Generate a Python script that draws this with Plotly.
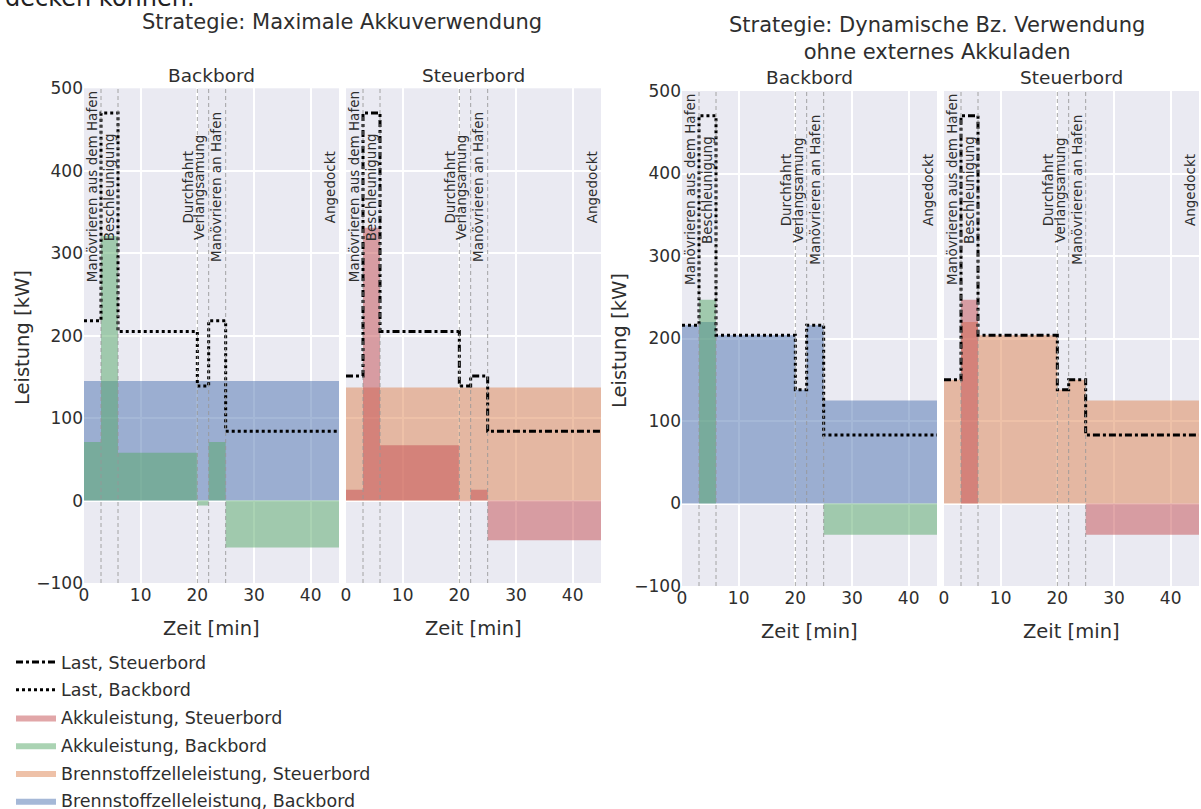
import plotly.graph_objects as go

# ---------------- data ----------------
phase_edges = [0, 3, 6, 20, 22, 25, 45]
phase_names = ["Manövrieren aus dem Hafen", "Beschleunigung", "Durchfahrt",
               "Verlangsamung", "Manövrieren an Hafen", "Angedockt"]

# Strategie 1: Maximale Akkuverwendung
s1_last_bb = [218, 470, 205, 139, 218, 84]
s1_last_sb = [151, 470, 205, 139, 151, 84]
s1_bz_bb = [145, 145, 145, 145, 145, 145]
s1_bz_sb = [137, 137, 137, 137, 137, 137]
s1_akku_bb = [71, 321, 58, -6, 71, -57]
s1_akku_sb = [13, 331, 67, -1, 13, -48]

# Strategie 2: Dynamische Bz. Verwendung ohne externes Akkuladen
s2_last_bb = [216, 470, 204, 138, 216, 83]
s2_last_sb = [150, 470, 204, 138, 150, 83]
s2_bz_bb = [216, 220, 204, 138, 216, 125]
s2_bz_sb = [150, 220, 204, 138, 150, 125]
s2_akku_bb = [0, 247, 0, 0, 0, -38]
s2_akku_sb = [0, 247, 0, 0, 0, -38]

titles = ["Strategie: Maximale Akkuverwendung",
          "Strategie: Dynamische Bz. Verwendung<br>ohne externes Akkuladen"]
side_names = ["Backbord", "Steuerbord"]
y_ticks = [-100, 0, 100, 200, 300, 400, 500]
x_ticks = [0, 10, 20, 30, 40]

# ---------------- style ----------------
W, H = 1201, 809
TXT = "#2e2e2e"
FONT = "DejaVu Sans"
BZ_BB = "rgba(76,114,176,0.5)"
AKKU_BB = "rgba(85,168,104,0.5)"
BZ_SB = "rgba(221,132,82,0.5)"
AKKU_SB = "rgba(196,78,82,0.5)"


def px(x):
    return x / W


def py(y):
    return 1 - y / H


def steps(v):
    return list(v) + [v[-1]]


panels = [
    dict(ax="", bz=s1_bz_bb, akku=s1_akku_bb, last=s1_last_bb, side="bb",
         xd=(84, 339), yd=(88.3, 583)),
    dict(ax="2", bz=s1_bz_sb, akku=s1_akku_sb, last=s1_last_sb, side="sb",
         xd=(346, 601), yd=(88.3, 583)),
    dict(ax="3", bz=s2_bz_bb, akku=s2_akku_bb, last=s2_last_bb, side="bb",
         xd=(682, 937), yd=(91, 586)),
    dict(ax="4", bz=s2_bz_sb, akku=s2_akku_sb, last=s2_last_sb, side="sb",
         xd=(944, 1199), yd=(91, 586)),
]

series_info = {
    ("bz", "bb"): ("Brennstoffzelleleistung, Backbord", BZ_BB, 6),
    ("bz", "sb"): ("Brennstoffzelleleistung, Steuerbord", BZ_SB, 5),
    ("akku", "bb"): ("Akkuleistung, Backbord", AKKU_BB, 4),
    ("akku", "sb"): ("Akkuleistung, Steuerbord", AKKU_SB, 3),
    ("last", "bb"): ("Last, Backbord", None, 2),
    ("last", "sb"): ("Last, Steuerbord", None, 1),
}

fig = go.Figure()
shown = set()
for p in panels:
    xa, ya = "x" + p["ax"], "y" + p["ax"]
    for kind in ["bz", "akku"]:
        name, col, rank = series_info[(kind, p["side"])]
        key = (kind, p["side"])
        fig.add_trace(go.Scatter(
            x=phase_edges, y=steps(p[kind]), mode="lines",
            line=dict(width=0, shape="hv"), fill="tozeroy", fillcolor=col,
            name=name, legendgroup=name, legendrank=rank,
            showlegend=key not in shown, xaxis=xa, yaxis=ya, hoverinfo="skip"))
        shown.add(key)
    name, _, rank = series_info[("last", p["side"])]
    key = ("last", p["side"])
    dash = "3px,3px" if p["side"] == "bb" else "7px,3px,3px,3px"
    fig.add_trace(go.Scatter(
        x=phase_edges, y=steps(p["last"]), mode="lines",
        line=dict(color="black", width=3, dash=dash, shape="hv"),
        name=name, legendgroup=name, legendrank=rank,
        showlegend=key not in shown, xaxis=xa, yaxis=ya, hoverinfo="skip"))
    shown.add(key)

annotations = []
shapes = []
layout_axes = {}
for i, p in enumerate(panels):
    xa, ya = "x" + p["ax"], "y" + p["ax"]
    layout_axes["xaxis" + p["ax"]] = dict(
        domain=[px(p["xd"][0]), px(p["xd"][1])], anchor=ya, range=[0, 45],
        tickvals=x_ticks, showgrid=True, gridcolor="white", gridwidth=1.5,
        zeroline=False, showline=False, ticks="",
        tickfont=dict(size=17, color=TXT, family=FONT))
    layout_axes["yaxis" + p["ax"]] = dict(
        domain=[py(p["yd"][1]), py(p["yd"][0])], anchor=xa, range=[-100, 500],
        tickvals=y_ticks, showgrid=True, gridcolor="white", gridwidth=1.5,
        zeroline=False, showline=False, ticks="",
        showticklabels=(p["side"] == "bb"),
        tickfont=dict(size=17, color=TXT, family=FONT))
    # phase separators
    for e in phase_edges[1:-1]:
        shapes.append(dict(type="line", xref=xa, yref=ya + " domain",
                           x0=e, x1=e, y0=0, y1=1, layer="above",
                           line=dict(color="rgba(150,150,150,0.85)", width=1,
                                     dash="4px,3px")))
    # phase labels
    for e, nm in zip(phase_edges[1:], phase_names):
        annotations.append(dict(x=e, y=380, xref=xa, yref=ya, text=nm,
                                textangle=-90, xanchor="right", yanchor="middle",
                                showarrow=False, borderpad=0,
                                font=dict(size=13.5, color=TXT, family=FONT)))
    cx = (p["xd"][0] + p["xd"][1]) / 2
    # panel titles
    annotations.append(dict(x=px(cx), y=py(p["yd"][0] - 13), xref="paper",
                            yref="paper", text=side_names[i % 2], showarrow=False,
                            xanchor="center", yanchor="middle",
                            font=dict(size=18.5, color=TXT, family=FONT)))
    # x titles
    annotations.append(dict(x=px(cx), y=py(p["yd"][1] + 45), xref="paper",
                            yref="paper", text="Zeit [min]", showarrow=False,
                            xanchor="center", yanchor="middle",
                            font=dict(size=19.5, color=TXT, family=FONT)))

# y titles
for xx, yy in [(22, 338), (620, 341)]:
    annotations.append(dict(x=px(xx), y=py(yy), xref="paper", yref="paper",
                            text="Leistung [kW]", textangle=-90, showarrow=False,
                            xanchor="center", yanchor="middle",
                            font=dict(size=19.5, color=TXT, family=FONT)))
# strategy titles
annotations.append(dict(x=px(342), y=py(22), xref="paper", yref="paper",
                        text=titles[0], showarrow=False, xanchor="center",
                        yanchor="middle", font=dict(size=21, color=TXT, family=FONT)))
annotations.append(dict(x=px(937), y=py(38), xref="paper", yref="paper",
                        text=titles[1], showarrow=False, xanchor="center",
                        yanchor="middle", font=dict(size=21, color=TXT, family=FONT)))
# clipped text from the surrounding document
annotations.append(dict(x=px(197), y=py(14), xref="paper", yref="paper",
                        text="decken können.", showarrow=False, xanchor="right",
                        yanchor="bottom", font=dict(size=24, color="#222", family=FONT)))

fig.update_layout(
    width=W, height=H, autosize=False,
    margin=dict(l=0, r=0, t=0, b=0, autoexpand=False),
    paper_bgcolor="white", plot_bgcolor="#EAEAF2",
    template="none",
    font=dict(family=FONT, color=TXT),
    showlegend=True,
    legend=dict(x=px(11), y=py(644), xanchor="left", yanchor="top",
                bgcolor="rgba(0,0,0,0)", traceorder="grouped",
                tracegroupgap=2, itemwidth=40,
                font=dict(size=17.5, color=TXT, family=FONT)),
    annotations=annotations, shapes=shapes,
    **layout_axes,
)

fig.write_html("out.html", config={"displayModeBar": False},
               post_script="document.body.style.margin='0';")
